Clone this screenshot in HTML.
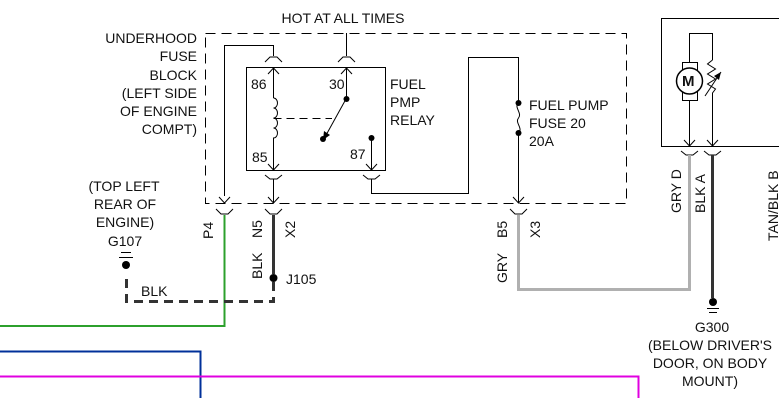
<!DOCTYPE html>
<html><head><meta charset="utf-8"><style>
html,body{margin:0;padding:0;background:#fff;width:779px;height:406px;overflow:hidden}
text{font-family:"Liberation Sans",sans-serif;font-size:14px;fill:#111}
</style></head><body>
<svg width="779" height="406" viewBox="0 0 779 406" xmlns="http://www.w3.org/2000/svg">
<g fill="none" stroke="#000" stroke-width="1">
<rect x="205.5" y="33.5" width="421" height="170" stroke-dasharray="10,6"/>
<rect x="246.5" y="67.5" width="139" height="103"/>
<path d="M224.5 196 V45.5 H273.5 V56"/>
<path d="M346.5 33 V56"/>
<path d="M265 62 L270 57 H277 L282 62"/>
<path d="M338 62 L343 57 H350 L355 62"/>
<path d="M268 74 L273.5 68 L279 74"/><path d="M273.5 68 V98"/>
<path d="M341 74 L346.5 68 L352 74"/><path d="M346.5 68 V99"/>
<path d="M273.5 98 a4 5 0 0 1 0 10 a4 5 0 0 1 0 10 a4 5 0 0 1 0 10 a4 5 0 0 1 0 10 V170"/>
<path d="M273.5 118.5 H332" stroke-dasharray="8,5"/>
<path d="M346 99 L325 137"/>
<path d="M371.5 138 V170"/>
<path d="M268 164 L273.5 170 L279 164"/>
<path d="M366 164 L371.5 170 L377 164"/>
<path d="M265 175 L270 179 H277 L282 175"/><path d="M273.5 179 V203"/>
<path d="M363 175 L368 179 H375 L380 175"/>
<path d="M371.5 179 V193.5 H468.5 V57.5 H518.5 V103"/>
<path d="M518.5 103 c-5 4 4 10 0 15 c-4 5 5 10 0 15 V203"/>
<path d="M219 197 L224.5 203 L230 197"/>
<path d="M268 197 L273.5 203 L279 197"/>
<path d="M513 197 L518.5 203 L524 197"/>
<path d="M216 209 L221 214 H228 L233 209"/>
<path d="M265 209 L270 214 H277 L282 209"/>
<path d="M510 209 L515 214 H522 L527 209"/>
<path d="M779 18.5 H661.5 V146.5 H779"/>
<path d="M689.5 62 V33.5 H712.5 V60"/>
<rect x="682.5" y="62.5" width="15" height="38"/>
<circle cx="689.5" cy="81" r="13" fill="#fff" stroke-width="1.5"/>
<path d="M689.5 101 V146"/>
<path d="M712.5 60 l-5 4 l8 5 l-8 5 l8 5 l-8 5 l8 5 l-3 4 V146"/>
<path d="M705 96 L721 72"/>
<path d="M684 140 L689.5 146 L695 140"/>
<path d="M707 140 L712.5 146 L718 140"/>
<path d="M681 151 L686 155 H693 L698 151"/>
<path d="M704 151 L709 155 H716 L721 151"/>
<path d="M121 252.5 H131 M119 257.5 H133"/>
<path d="M707 308.5 H719 M709 312.5 H717"/>
</g>
<path d="M721 72 L714 76 L719 80 Z" fill="#000"/>
<path d="M323 140 L324 131 L330 135 Z" fill="#000"/>
<g fill="#000">
<circle cx="346.5" cy="99" r="3"/>
<circle cx="323" cy="139" r="3"/>
<circle cx="371.5" cy="138" r="3"/>
<circle cx="518.5" cy="103" r="3"/>
<circle cx="518.5" cy="133" r="3"/>
<circle cx="273.5" cy="278" r="4"/>
<circle cx="126" cy="265" r="4"/>
<circle cx="713" cy="302" r="4"/>
</g>
<g fill="none">
<path d="M224.5 215 V326 H0" stroke="#2ca02c" stroke-width="2"/>
<path d="M273.5 215 V274" stroke="#333" stroke-width="3"/>
<path d="M273.5 282 V301.5 H126.5 V278" stroke="#333" stroke-width="3" stroke-dasharray="9,6"/>
<path d="M518.5 215 V289.5 H689.5 V155" stroke="#b0b0b0" stroke-width="3"/>
<path d="M712.5 155 V298" stroke="#333" stroke-width="3"/>
<path d="M0 351.5 H200.5 V398" stroke="#00309a" stroke-width="2"/>
<path d="M0 376.5 H638.5 V398" stroke="#e000e0" stroke-width="2"/>
</g>
<text x="343" y="23" text-anchor="middle">HOT AT ALL TIMES</text>
<g text-anchor="end">
<text x="197" y="43">UNDERHOOD</text>
<text x="197" y="61">FUSE</text>
<text x="197" y="80">BLOCK</text>
<text x="197" y="98">(LEFT SIDE</text>
<text x="197" y="116">OF ENGINE</text>
<text x="197" y="134">COMPT)</text>
</g>
<text x="251" y="89">86</text>
<text x="329" y="89">30</text>
<text x="252" y="162">85</text>
<text x="350" y="159">87</text>
<text x="390" y="89">FUEL</text>
<text x="390" y="107">PMP</text>
<text x="390" y="125">RELAY</text>
<text x="529" y="110">FUEL PUMP</text>
<text x="529" y="128">FUSE 20</text>
<text x="529" y="146">20A</text>
<g text-anchor="middle">
<text x="124" y="191">(TOP LEFT</text>
<text x="125" y="209">REAR OF</text>
<text x="125" y="227">ENGINE)</text>
<text x="125" y="246">G107</text>
<text x="712" y="332">G300</text>
<text x="710" y="350">(BELOW DRIVER'S</text>
<text x="710" y="368">DOOR, ON BODY</text>
<text x="710" y="386">MOUNT)</text>
</g>
<text x="141" y="296">BLK</text>
<text x="286" y="284">J105</text>
<g>
<text transform="translate(213,239) rotate(-90)">P4</text>
<text transform="translate(262,238) rotate(-90)">N5</text>
<text transform="translate(295,238) rotate(-90)">X2</text>
<text transform="translate(262,279) rotate(-90)">BLK</text>
<text transform="translate(507,238) rotate(-90)">B5</text>
<text transform="translate(540,238) rotate(-90)">X3</text>
<text transform="translate(507,283) rotate(-90)">GRY</text>
<text transform="translate(681,213) rotate(-90)">GRY  D</text>
<text transform="translate(705,213) rotate(-90)">BLK  A</text>
<text transform="translate(778,241) rotate(-90)">TAN/BLK  B</text>
</g>
<text x="682" y="86" style="font-size:15px;font-weight:bold">M</text>
</svg>
</body></html>
